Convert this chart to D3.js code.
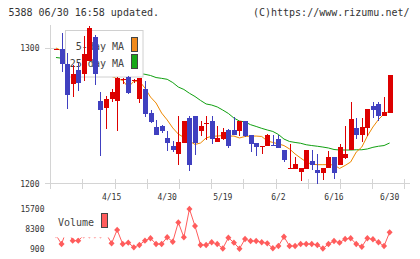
<!DOCTYPE html>
<html><head><meta charset="utf-8">
<script src="https://cdn.jsdelivr.net/npm/d3@7/dist/d3.min.js"></script>
<style>
html,body{margin:0;padding:0;background:#fff;}
svg{display:block;}
text{font-family:"DejaVu Sans Mono",monospace;}
</style></head>
<body>
<svg id="c" width="420" height="259"></svg>
<script>
const title = "5388 06/30 16:58 updated.";
const credit = "(C)https://www.rizumu.net/";
const dateLabels = [[10,"4/15"],[20,"4/30"],[30,"5/19"],[40,"6/2"],[50,"6/16"],[60,"6/30"]];
const priceTicks = [1200, 1300];
const volumeTicks = [15700, 8300, 900];

const open  = [1299,1299,1288,1273.5,1283.5,1280.5,1290.5,1308,1261,1256,1262.5,1261,1276.5,1278.5,1275.5,1262.5,1269.5,1252,1241.5,1242.5,1233.5,1227.5,1222,1230,1248,1249.5,1239,1244,1246,1230.5,1232.5,1239.5,1239.5,1238.5,1246,1235.5,1230,1227.5,1227.5,1228.5,1233,1224.5,1210.5,1210.5,1208.5,1211,1216.5,1210,1208,1211.5,1219.5,1214,1218.5,1224.5,1241,1235.5,1241,1257.5,1259,1249.5,1252];
const high  = [1299.5,1311,1296,1287.5,1289,1309,1316,1309.5,1267.5,1264.5,1270,1278.5,1277.5,1279,1277,1278,1275.5,1254,1246.5,1243,1238.5,1231.5,1250,1246,1249.5,1250,1246,1250,1249.5,1242.5,1241,1240,1249,1246,1246,1235.5,1230,1228,1236.5,1235.5,1235.5,1224.5,1229.5,1219.5,1211.5,1224.5,1224.5,1221.5,1211.5,1224,1219.5,1229,1242.5,1260,1248,1248,1255,1260,1260,1264,1280];
const low   = [1299,1282,1255,1264,1268.5,1275.5,1290.5,1272.5,1220.5,1240.5,1260,1239,1273.5,1266,1274,1259.5,1249,1245,1236,1237.5,1224,1223,1214,1230,1209.5,1221,1235,1232,1229,1230.5,1232,1226,1235.5,1235,1234,1223,1220.5,1221.5,1227.5,1227.5,1226,1216,1210.5,1210.5,1202,1211,1210,1200,1202.5,1211.5,1203,1214,1218,1224.5,1232.5,1230.5,1235,1248.5,1246,1249.5,1252];
const close = [1299.5,1288,1265.5,1281,1274.5,1295.5,1315,1280.5,1254.5,1262,1267.5,1277.5,1277,1266.5,1276.5,1278,1251.5,1245.5,1236,1239,1230,1225,1230.5,1246,1214,1230,1242.5,1244.5,1232.5,1233.5,1238,1228,1235.5,1246,1235,1229,1227,1228,1235.5,1227.5,1226,1217,1211.5,1214.5,1211.5,1224.5,1214,1208,1211.5,1219.5,1207.5,1227,1222,1247.5,1235.5,1241.5,1255,1254.5,1249.5,1253,1280];
const ma5   = [1300,1298,1296,1292,1288,1286,1288,1289,1284,1281,1279,1277.5,1276,1271,1275.5,1275.5,1270.5,1263.8,1259.4,1252,1246.9,1241,1236.5,1234,1231.4,1228.8,1229.9,1233.6,1234.9,1235,1235.4,1235,1235,1233.6,1234.7,1235,1235,1234.7,1231.4,1230.3,1229.2,1228,1225.5,1221.8,1218.8,1215.9,1214.2,1213.9,1213.9,1213.9,1213.7,1211.1,1213.3,1215.9,1223.2,1226.9,1235,1241.7,1247.2,1251.3,1253.5];
const ma25  = [1293,1292.5,1291.5,1290.5,1289.5,1289,1288,1287,1286,1285,1284,1283.5,1283,1282.5,1282,1281.2,1280.6,1279.7,1278.2,1277.6,1276.9,1274.5,1271.2,1269.4,1266.6,1264.2,1261.3,1258.7,1257.9,1256.5,1254.2,1251.7,1248.3,1246.1,1245.4,1243.4,1242.1,1240.7,1239.5,1238.4,1236.2,1232.8,1231,1230.3,1229.7,1228.6,1228,1227.5,1226.9,1226.2,1225.1,1224.7,1224.7,1224.7,1224.9,1224.9,1225.5,1226.7,1227.5,1228,1229.9];
const volume = [6000,2650,8400,3900,3900,5900,5900,5900,5900,6500,2900,7900,2650,3150,1400,2300,3900,4800,2650,2650,5150,3500,10700,5150,15700,9350,2300,2300,3300,2650,1000,5000,3150,900,4500,3750,3750,3300,2900,1050,1900,5350,1900,1900,2650,2650,2650,2300,950,2650,3750,3150,4500,4800,2650,1650,4800,4400,3300,1900,7000];

const svg = d3.select("#c");
svg.append("rect").attr("width",420).attr("height",259).attr("fill","#fff");

const n = close.length;
const x = d3.scaleLinear().domain([-0.95, 62.75]).range([50.7, 404.9]);
const y = d3.scaleLinear().domain([1200, 1300]).range([183.5, 48]);
const yv = d3.scaleLinear().domain([900, 15700]).range([248.7, 209]);
const idx = d3.range(n);
const axisColor = "#d4d4d4";
const textColor = "#333";

// header
svg.append("text").attr("x",8.5).attr("y",16).attr("font-size",10).attr("fill",textColor).text(title);
svg.append("text").attr("x",409.5).attr("y",16).attr("font-size",10).attr("fill",textColor).attr("text-anchor","end").text(credit);

// axes
const ax = svg.append("g").attr("stroke",axisColor).attr("stroke-width",1).attr("shape-rendering","crispEdges");
ax.append("line").attr("x1",50.5).attr("x2",50.5).attr("y1",25).attr("y2",189);
ax.append("line").attr("x1",45).attr("x2",410).attr("y1",y(1200)).attr("y2",y(1200));
const tickVals = d3.range(12).map(k => -0.95 + k * (63.7 / 11));
ax.selectAll("line.xt").data(tickVals).join("line").attr("class","xt")
  .attr("x1",d=>x(d)).attr("x2",d=>x(d)).attr("y1",y(1200)-5).attr("y2",y(1200)+5);
ax.selectAll("line.yt").data(priceTicks).join("line").attr("class","yt")
  .attr("x1",45).attr("x2",56).attr("y1",d=>y(d)).attr("y2",d=>y(d));

svg.selectAll("text.yl").data(priceTicks).join("text").attr("class","yl")
  .attr("x",39.5).attr("y",d=>y(d)+3).attr("text-anchor","end").attr("font-size",8).attr("fill",textColor).text(d=>d);
svg.selectAll("text.dl").data(dateLabels).join("text").attr("class","dl")
  .attr("x",d=>x(d[0])).attr("y",200).attr("text-anchor","middle").attr("font-size",8).attr("fill",textColor).text(d=>d[1]);

// moving averages
const lineGen = arr => d3.line().x(i=>x(i)).y(i=>y(arr[i]))(idx);
svg.append("path").attr("d",lineGen(ma25)).attr("fill","none").attr("stroke","#10a010").attr("stroke-width",1);
svg.append("path").attr("d",lineGen(ma5)).attr("fill","none").attr("stroke","#ee8800").attr("stroke-width",1);

// legend
const lg = svg.append("g");
lg.append("rect").attr("x",65.5).attr("y",30.5).attr("width",77.5).attr("height",46.5).attr("fill","#fff").attr("stroke","#d0d0d0");
lg.append("text").attr("x",124).attr("y",50).attr("text-anchor","end").attr("font-size",10).attr("fill","#444").text("5-day MA");
lg.append("text").attr("x",124).attr("y",67).attr("text-anchor","end").attr("font-size",10).attr("fill","#444").text("25-day MA");
lg.append("rect").attr("x",131.5).attr("y",37.5).attr("width",6).attr("height",14).attr("fill","#f08a1c").attr("stroke","#444");
lg.append("rect").attr("x",131.5).attr("y",54.5).attr("width",6).attr("height",14).attr("fill","#18a818").attr("stroke","#444");

// candles
const up = i => close[i] >= open[i];
const colr = i => up(i) ? "#dd0000" : "#4040c0";
const cg = svg.append("g").attr("shape-rendering","crispEdges");
cg.selectAll("line").data(idx).join("line")
  .attr("x1",i=>Math.round(x(i))+0.5).attr("x2",i=>Math.round(x(i))+0.5)
  .attr("y1",i=>y(high[i])).attr("y2",i=>y(low[i])).attr("stroke",colr).attr("stroke-width",1);
cg.selectAll("rect").data(idx).join("rect")
  .attr("x",i=>Math.round(x(i))-2).attr("width",5)
  .attr("y",i=>y(Math.max(open[i],close[i])))
  .attr("height",i=>Math.max(1, Math.abs(y(open[i])-y(close[i]))))
  .attr("fill",colr);

// volume
const vcol = "#ff5c5c";
svg.append("path").attr("d",d3.line().x(i=>x(i)).y(i=>yv(volume[i]))(idx)).attr("fill","none").attr("stroke",vcol).attr("stroke-width",1);
svg.selectAll("path.vm").data(idx).join("path").attr("class","vm")
  .attr("d",i=>{const cx=x(i), cy=yv(volume[i]); return `M${cx},${cy-3.2}L${cx+3},${cy}L${cx},${cy+3.2}L${cx-3},${cy}Z`;})
  .attr("fill",vcol);
svg.selectAll("text.vl").data(volumeTicks).join("text").attr("class","vl")
  .attr("x",44.5).attr("y",d=>yv(d)+3).attr("text-anchor","end").attr("font-size",8).attr("fill",textColor).text(d=>d);

const vg = svg.append("g");
vg.append("rect").attr("x",50).attr("y",203).attr("width",62).attr("height",34.5).attr("fill","#fff");
vg.append("text").attr("x",94).attr("y",226).attr("text-anchor","end").attr("font-size",10).attr("fill","#444").text("Volume");
vg.append("rect").attr("x",101.5).attr("y",213.5).attr("width",6).attr("height",14).attr("fill",vcol).attr("stroke","#444");
</script>
</body></html>
